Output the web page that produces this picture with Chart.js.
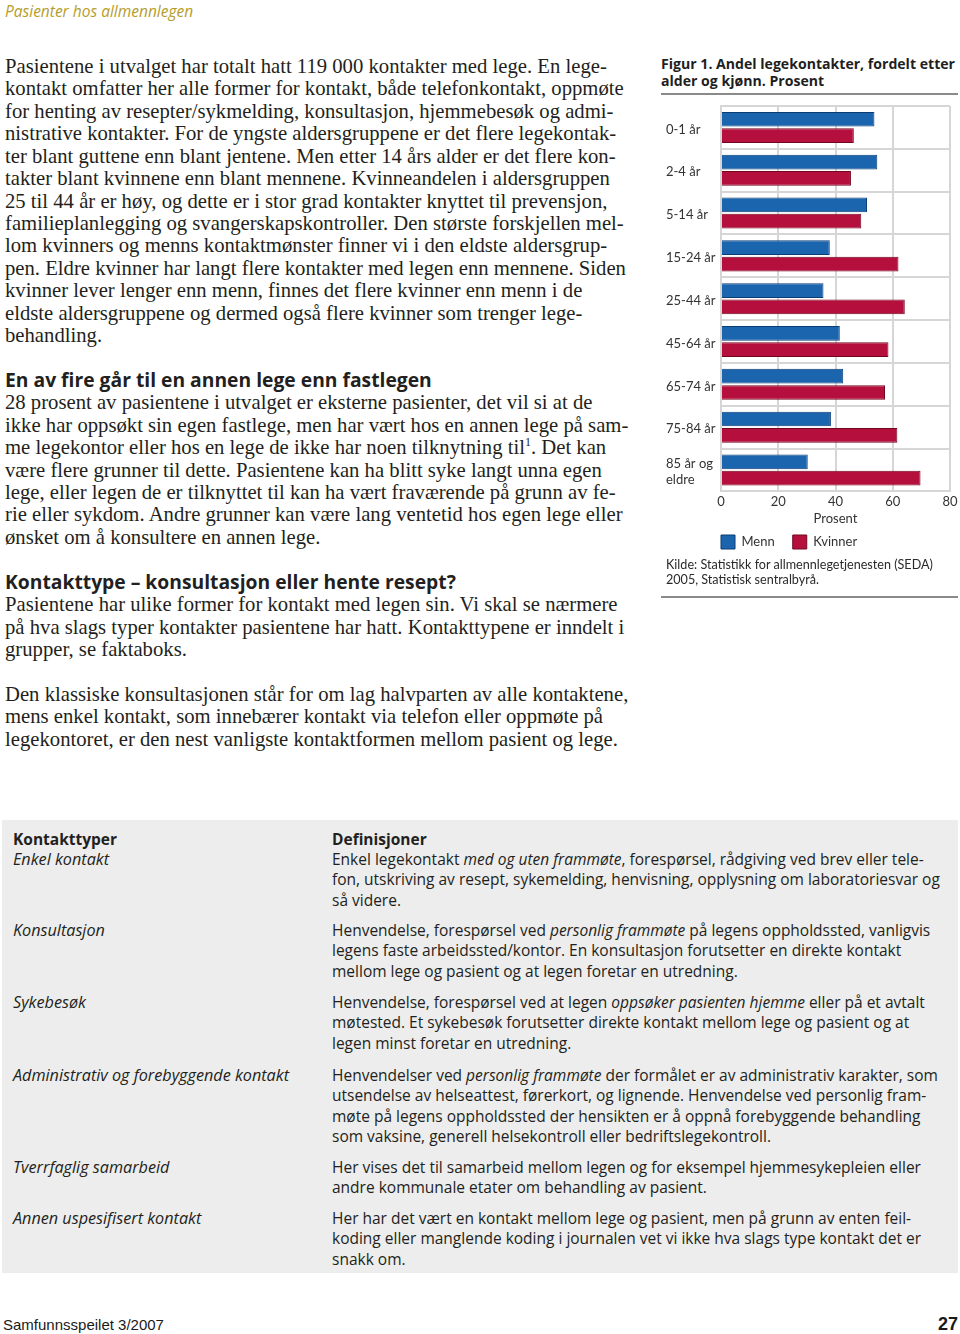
<!DOCTYPE html>
<html>
<head>
<meta charset="utf-8">
<script src="https://cdn.jsdelivr.net/npm/chart.js@4.4.1/dist/chart.umd.min.js"></script>
<style>
  body { margin: 0; width: 960px; height: 1334px; position: relative; overflow: hidden; background: #fff; color: #231f20; }
  .abs { position: absolute; }
  .runhead { left: 5px; top: 0px; font: italic 15.5px "Open Sans", sans-serif; color: #b59d2c; }
  .col { left: 5px; top: 55px; font: 20.7px "Liberation Serif", serif; line-height: 22.42px; white-space: nowrap; }
  .col .h { font: bold 19.3px "Open Sans", sans-serif; line-height: 22.42px; }
  .col .blank { height: 22.42px; }
  .col sup { font-size: 12px; line-height: 0; }
  .figtitle { left: 661px; top: 55px; font: bold 14.1px "Open Sans", sans-serif; line-height: 17px; color: #1f1f1f; white-space: nowrap; }
  .rule { left: 661px; width: 297px; height: 2px; background: #8a8a8a; }
  #chartBox { left: 660px; top: 98px; width: 300px; height: 473px; }
  .source { left: 666px; top: 558px; font: 12.6px Lato, sans-serif; line-height: 14.5px; color: #2a2a2a; white-space: nowrap; }
  .box { left: 2px; top: 820px; width: 956px; height: 453px; background: #ededed; }
  .box .row { position: absolute; left: 0; width: 956px; font: 15.5px "Open Sans", sans-serif; line-height: 20.4px; white-space: nowrap; }
  .box .l { position: absolute; left: 11px; font-style: italic; font-size: 16.2px; }
  .box .r { position: absolute; left: 330px; }
  .box b { font-weight: bold; font-style: normal; font-size: 15.5px; }
  .foot { top: 1316px; font: 15px "Liberation Sans", sans-serif; color: #1a1a1a; }
</style>
</head>
<body>
<div class="abs runhead">Pasienter hos allmennlegen</div>

<div class="abs col">
  <div>Pasientene i utvalget har totalt hatt 119 000 kontakter med lege. En lege-</div>
  <div>kontakt omfatter her alle former for kontakt, både telefonkontakt, oppmøte</div>
  <div>for henting av resepter/sykmelding, konsultasjon, hjemmebesøk og admi-</div>
  <div>nistrative kontakter. For de yngste aldersgruppene er det flere legekontak-</div>
  <div>ter blant guttene enn blant jentene. Men etter 14 års alder er det flere kon-</div>
  <div>takter blant kvinnene enn blant mennene. Kvinneandelen i aldersgruppen</div>
  <div>25 til 44 år er høy, og dette er i stor grad kontakter knyttet til prevensjon,</div>
  <div>familieplanlegging og svangerskapskontroller. Den største forskjellen mel-</div>
  <div>lom kvinners og menns kontaktmønster finner vi i den eldste aldersgrup-</div>
  <div>pen. Eldre kvinner har langt flere kontakter med legen enn mennene. Siden</div>
  <div>kvinner lever lenger enn menn, finnes det flere kvinner enn menn i de</div>
  <div>eldste aldersgruppene og dermed også flere kvinner som trenger lege-</div>
  <div>behandling.</div>
  <div class="blank"></div>
  <div class="h">En av fire går til en annen lege enn fastlegen</div>
  <div>28 prosent av pasientene i utvalget er eksterne pasienter, det vil si at de</div>
  <div>ikke har oppsøkt sin egen fastlege, men har vært hos en annen lege på sam-</div>
  <div>me legekontor eller hos en lege de ikke har noen tilknytning til<sup>1</sup>. Det kan</div>
  <div>være flere grunner til dette. Pasientene kan ha blitt syke langt unna egen</div>
  <div>lege, eller legen de er tilknyttet til kan ha vært fraværende på grunn av fe-</div>
  <div>rie eller sykdom. Andre grunner kan være lang ventetid hos egen lege eller</div>
  <div>ønsket om å konsultere en annen lege.</div>
  <div class="blank"></div>
  <div class="h">Kontakttype – konsultasjon eller hente resept?</div>
  <div>Pasientene har ulike former for kontakt med legen sin. Vi skal se nærmere</div>
  <div>på hva slags typer kontakter pasientene har hatt. Kontakttypene er inndelt i</div>
  <div>grupper, se faktaboks.</div>
  <div class="blank"></div>
  <div>Den klassiske konsultasjonen står for om lag halvparten av alle kontaktene,</div>
  <div>mens enkel kontakt, som innebærer kontakt via telefon eller oppmøte på</div>
  <div>legekontoret, er den nest vanligste kontaktformen mellom pasient og lege.</div>
</div>

<div class="abs figtitle">Figur 1. Andel legekontakter, fordelt etter<br>alder og kjønn. Prosent</div>
<div class="abs rule" style="top:93px"></div>
<div class="abs" id="chartBox"><canvas id="chart"></canvas></div>
<div class="abs source">Kilde: Statistikk for allmennlegetjenesten (SEDA)<br>2005, Statistisk sentralbyrå.</div>
<div class="abs rule" style="top:596px"></div>

<div class="abs box">
  <div class="row" style="top:9px"><span class="l"><b>Kontakttyper</b></span><span class="r"><b>Definisjoner</b></span></div>
  <div class="row" style="top:29px">
    <span class="l">Enkel kontakt</span>
    <span class="r">Enkel legekontakt <i>med og uten frammøte</i>, forespørsel, rådgiving ved brev eller tele-<br>fon, utskriving av resept, sykemelding, henvisning, opplysning om laboratoriesvar og<br>så videre.</span>
  </div>
  <div class="row" style="top:100px">
    <span class="l">Konsultasjon</span>
    <span class="r">Henvendelse, forespørsel ved <i>personlig frammøte</i> på legens oppholdssted, vanligvis<br>legens faste arbeidssted/kontor. En konsultasjon forutsetter en direkte kontakt<br>mellom lege og pasient og at legen foretar en utredning.</span>
  </div>
  <div class="row" style="top:172px">
    <span class="l">Sykebesøk</span>
    <span class="r">Henvendelse, forespørsel ved at legen <i>oppsøker pasienten hjemme</i> eller på et avtalt<br>møtested. Et sykebesøk forutsetter direkte kontakt mellom lege og pasient og at<br>legen minst foretar en utredning.</span>
  </div>
  <div class="row" style="top:245px">
    <span class="l">Administrativ og forebyggende kontakt</span>
    <span class="r">Henvendelser ved <i>personlig frammøte</i> der formålet er av administrativ karakter, som<br>utsendelse av helseattest, førerkort, og lignende. Henvendelse ved personlig fram-<br>møte på legens oppholdssted der hensikten er å oppnå forebyggende behandling<br>som vaksine, generell helsekontroll eller bedriftslegekontroll.</span>
  </div>
  <div class="row" style="top:337px">
    <span class="l">Tverrfaglig samarbeid</span>
    <span class="r">Her vises det til samarbeid mellom legen og for eksempel hjemmesykepleien eller<br>andre kommunale etater om behandling av pasient.</span>
  </div>
  <div class="row" style="top:388px">
    <span class="l">Annen uspesifisert kontakt</span>
    <span class="r">Her har det vært en kontakt mellom lege og pasient, men på grunn av enten feil-<br>koding eller manglende koding i journalen vet vi ikke hva slags type kontakt det er<br>snakk om.</span>
  </div>
</div>

<div class="abs foot" style="left:3px">Samfunnsspeilet 3/2007</div>
<div class="abs foot" style="right:2px;top:1314px;font-weight:bold;font-size:18px">27</div>

<script>
// age groups on the y axis, last label broken over two lines
const ageGroups = ["0-1 år", "2-4 år", "5-14 år", "15-24 år", "25-44 år", "45-64 år", "65-74 år", "75-84 år", ["85 år og", "eldre"]];
const menn    = [53.6, 54.6, 51.0, 38.0, 35.8, 41.5, 42.7, 38.4, 30.3];
const kvinner = [46.4, 45.4, 49.0, 62.0, 64.2, 58.5, 57.3, 61.6, 69.7];
const seriesNames = ["Menn", "Kvinner"];
const xMin = 0, xMax = 80, xStep = 20;

const grid = "#d6d6d6";
const labelFont = { family: "Lato, sans-serif", size: 13 };

// legend starts at the plot's left edge, not the canvas edge
const legendAtPlot = {
  id: "legendAtPlot",
  afterLayout(chart) {
    const lg = chart.legend;
    if (!lg) return;
    const pad = lg.options.labels.padding;
    lg.left = chart.chartArea.left - pad;
    lg.top = 437 - pad;
  }
};

new Chart(document.getElementById("chart"), {
  type: "bar",
  data: {
    labels: ageGroups,
    datasets: [
      { label: seriesNames[0], data: menn, backgroundColor: "#1b64ae", borderColor: "#0b3d75", borderWidth: 1 },
      { label: seriesNames[1], data: kvinner, backgroundColor: "#b5103d", borderColor: "#73061f", borderWidth: 1 }
    ]
  },
  options: {
    indexAxis: "y",
    responsive: true,
    maintainAspectRatio: false,
    animation: false,
    categoryPercentage: 0.7625,
    barPercentage: 0.9,
    layout: { padding: { left: 6, top: 8, right: 10, bottom: 0 } },
    scales: {
      x: {
        min: xMin, max: xMax,
        afterFit(scale) { scale.paddingLeft = 0; scale.paddingRight = 0; },
        ticks: { stepSize: xStep, color: "#333", font: { ...labelFont, lineHeight: 1 }, padding: 4 },
        grid: { color: grid, lineWidth: 2, drawTicks: false },
        border: { color: grid, width: 2 },
        title: { display: true, text: "Prosent", color: "#333", font: labelFont, padding: { top: -1, bottom: 2 } }
      },
      y: {
        afterFit(scale) { scale.width = 55; scale.paddingTop = 0; scale.paddingBottom = 0; },
        ticks: { color: "#333", font: labelFont, crossAlign: "far", labelOffset: 2 },
        grid: { color: grid, lineWidth: 2, drawTicks: false },
        border: { color: grid, width: 2 }
      }
    },
    plugins: {
      legend: {
        position: "bottom",
        align: "start",
        labels: { boxWidth: 14, boxHeight: 14, padding: 18, color: "#333", font: labelFont }
      },
      tooltip: { enabled: false }
    }
  },
  plugins: [legendAtPlot]
});
</script>
</body>
</html>
